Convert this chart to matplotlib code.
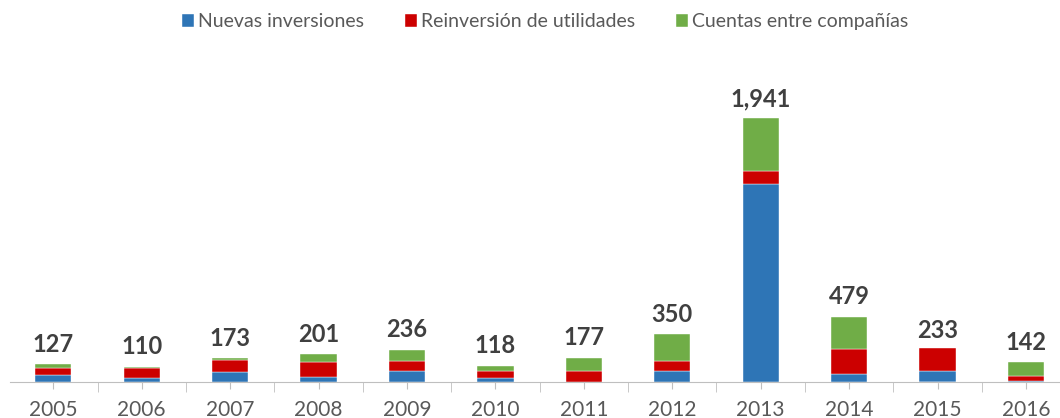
import numpy as np
import matplotlib.pyplot as plt

# Inversión extranjera directa por componente (millones)
years = ['2005', '2006', '2007', '2008', '2009', '2010',
         '2011', '2012', '2013', '2014', '2015', '2016']
nuevas = [48, 25, 68, 38, 82, 28, 0, 81, 1455, 55, 82, 2]
reinversion = [52, 75, 89, 105, 70, 48, 82, 69, 100, 183, 163, 38]
cuentas = [27, 10, 16, 58, 84, 42, 95, 200, 386, 241, -12, 102]
totales = [127, 110, 173, 201, 236, 118, 177, 350, 1941, 479, 233, 142]

series = [
    ('Nuevas inversiones', nuevas, '#2E75B6'),
    ('Reinversión de utilidades', reinversion, '#CC0000'),
    ('Cuentas entre compañías', cuentas, '#70AD47'),
]

plt.rcParams['font.family'] = ['Lato', 'DejaVu Sans']

fig = plt.figure(figsize=(10.6, 4.18), dpi=100)
ax = fig.add_axes([10 / 1060, 0.0868, 1 - 10 / 1060, 0.779])

x = np.arange(len(years))
pos_base = np.zeros(len(years))
neg_base = np.zeros(len(years))
for name, vals, color in series:
    v = np.array(vals, dtype=float)
    bottom = np.where(v >= 0, pos_base, neg_base)
    ax.bar(x, v, width=0.41, bottom=bottom, color=color, label=name,
           edgecolor='white', linewidth=0.3, clip_on=False, zorder=2)
    pos_base += np.where(v >= 0, v, 0)
    neg_base += np.where(v < 0, v, 0)

for xi, t in zip(x, totales):
    ax.annotate(f'{t:,}', (xi, t), xytext=(0, 6), textcoords='offset points',
                ha='center', va='bottom', fontsize=17, fontweight='bold',
                color='#404040')

ax.set_xticks(x)
ax.set_xticklabels(years)
ax.set_xticks(np.arange(-0.5, 11, 1), minor=True)
ax.set_xlim(-0.49, 11.385)
ax.set_ylim(0, 2400)
ax.tick_params(axis='x', which='major', length=5, color='#BFBFBF',
               labelsize=15, labelcolor='#595959', pad=8)
ax.tick_params(axis='x', which='minor', length=7, color='#BFBFBF')
ax.set_yticks([])
for s in ['top', 'right', 'left']:
    ax.spines[s].set_visible(False)
ax.spines['bottom'].set_color('#BFBFBF')

fig.legend(loc='upper center', bbox_to_anchor=(0.514, 1.01), ncol=3,
           frameon=False, fontsize=14, labelcolor='#595959',
           handlelength=0.62, handleheight=0.62, handletextpad=0.2,
           columnspacing=2.1)

fig.savefig('out.png', dpi=100)
